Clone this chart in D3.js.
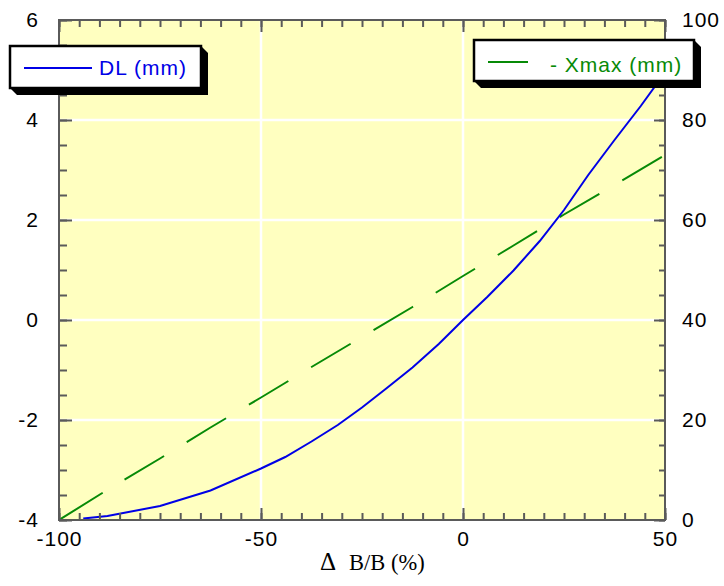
<!DOCTYPE html>
<html>
<head>
<meta charset="utf-8">
<script src="https://cdn.jsdelivr.net/npm/d3@7"></script>
<style>
  html, body { margin: 0; padding: 0; background: #ffffff; }
  svg { display: block; }
  .lbl { font-family: "Liberation Sans", Arial, Helvetica, sans-serif; font-size: 21px; letter-spacing: 1px; fill: #000; }
</style>
</head>
<body>
<svg id="chart" width="724" height="586"></svg>
<script>
// ---- data ----
const dlX = [-94, -88, -75, -62.5, -50, -44, -37.5, -31, -25, -19, -12.5, -6, 0, 6, 12.5, 19, 25, 31, 37.5, 44, 50];
const dlY = [-3.97, -3.92, -3.72, -3.41, -2.97, -2.74, -2.43, -2.1, -1.75, -1.37, -0.95, -0.48, 0, 0.46, 0.99, 1.58, 2.2, 2.9, 3.6, 4.28, 4.95];
const xmX = [-100, -87.5, -75, -62.5, -50, -37.5, -25, -12.5, 0, 12.5, 25, 37.5, 50];
const xmY = [0, 6.3, 12.3, 18.5, 24.5, 30.6, 36.6, 42.6, 48.8, 54.9, 61.1, 67, 73];
const xTickLabels = [-100, -50, 0, 50];
const yLeftTickLabels = [-4, -2, 0, 2, 4, 6];
const yRightTickLabels = [0, 20, 40, 60, 80, 100];
const legendDL = "DL (mm)";
const legendXmax = "- Xmax (mm)";

// ---- layout ----
const L = 59, R = 665, T = 20, B = 520;
const svg = d3.select("#chart");
const x = d3.scaleLinear().domain([-100, 50]).range([L, R]);
const yL = d3.scaleLinear().domain([-4, 6]).range([B, T]);
const yR = d3.scaleLinear().domain([0, 100]).range([B, T]);
const axisColor = "#5a5a5a";
const fmt = d => String(d);

svg.append("defs").append("clipPath").attr("id", "clip")
  .append("rect").attr("x", L).attr("y", T).attr("width", R - L).attr("height", B - T);

// background
svg.append("rect").attr("x", L).attr("y", T).attr("width", R - L).attr("height", B - T)
  .attr("fill", "#ffffc0");

// grid
const grid = svg.append("g");
grid.selectAll("line.vx").data(xTickLabels.filter(v => v > -100 && v < 50)).join("line")
  .attr("x1", d => x(d)).attr("x2", d => x(d)).attr("y1", T).attr("y2", B)
  .attr("stroke", "#ffffff").attr("stroke-width", 2.5);
grid.selectAll("line.hy").data(yLeftTickLabels.filter(v => v > -4 && v < 6)).join("line")
  .attr("x1", L).attr("x2", R).attr("y1", d => yL(d)).attr("y2", d => yL(d))
  .attr("stroke", "#ffffff").attr("stroke-width", 2.5);

// lines
const plot = svg.append("g").attr("clip-path", "url(#clip)");
const dlData = dlX.map((v, i) => [v, dlY[i]]);
const xmData = xmX.map((v, i) => [v, xmY[i]]);
plot.append("path").datum(xmData)
  .attr("d", d3.line().x(d => x(d[0])).y(d => yR(d[1])))
  .attr("fill", "none").attr("stroke", "#078a07").attr("stroke-width", 2)
  .attr("stroke-dasharray", [51.5, 25.5].concat(...Array(14).fill([46, 26.6])).join(","));
plot.append("path").datum(dlData)
  .attr("d", d3.line().x(d => x(d[0])).y(d => yL(d[1])))
  .attr("fill", "none").attr("stroke", "#0000e6").attr("stroke-width", 2);

// ticks
function styleAxis(g) {
  g.select(".domain").remove();
  g.selectAll(".tick line").attr("stroke", axisColor).attr("stroke-width", 2);
  g.selectAll(".tick text").attr("class", "lbl").attr("fill", "#000");
}
const xMinor = d3.range(-100, 50.01, 5);
const xMajor = xTickLabels;
// bottom
svg.append("g").attr("transform", `translate(0,${B})`)
  .call(d3.axisBottom(x).tickValues(xMinor).tickSize(-7).tickFormat(""))
  .call(styleAxis);
svg.append("g").attr("transform", `translate(0,${B})`)
  .call(d3.axisBottom(x).tickValues(xMajor).tickSize(-12).tickPadding(11).tickFormat(fmt))
  .call(styleAxis);
// top
svg.append("g").attr("transform", `translate(0,${T})`)
  .call(d3.axisTop(x).tickValues(xMinor).tickSize(-7).tickFormat(""))
  .call(styleAxis);
svg.append("g").attr("transform", `translate(0,${T})`)
  .call(d3.axisTop(x).tickValues(xMajor).tickSize(-12).tickFormat(""))
  .call(styleAxis);
// left
svg.append("g").attr("transform", `translate(${L},0)`)
  .call(d3.axisLeft(yL).tickValues(d3.range(-4, 6.01, 0.5)).tickSize(-8).tickFormat(""))
  .call(styleAxis);
svg.append("g").attr("transform", `translate(${L},0)`)
  .call(d3.axisLeft(yL).tickValues(yLeftTickLabels).tickSize(-13).tickPadding(20).tickFormat(fmt))
  .call(styleAxis);
// right
svg.append("g").attr("transform", `translate(${R},0)`)
  .call(d3.axisRight(yR).tickValues(d3.range(0, 100.01, 5)).tickSize(-6).tickFormat(""))
  .call(styleAxis);
svg.append("g").attr("transform", `translate(${R},0)`)
  .call(d3.axisRight(yR).tickValues(yRightTickLabels).tickSize(-11).tickPadding(17).tickFormat(fmt))
  .call(styleAxis);

// frame
svg.append("rect").attr("x", L).attr("y", T).attr("width", R - L).attr("height", B - T)
  .attr("fill", "none").attr("stroke", axisColor).attr("stroke-width", 2);

// x title
const title = svg.append("text").attr("y", 569.5)
  .attr("font-family", "'Liberation Serif', 'Times New Roman', serif").attr("fill", "#000");
title.append("tspan").attr("x", 320).attr("font-size", 25).text("Δ");
title.append("tspan").attr("x", 349).attr("font-size", 22.5).text("B/B (%)");

// legends
function legend(x0, y0, x1, y1, color, lx0, lx1, ly, tx, ty, label) {
  const g = svg.append("g");
  const o = 7;
  g.append("polygon")
    .attr("points", [[x0, y1], [x0 + o, y1 + o], [x1 + o, y1 + o], [x1 + o, y0 + o], [x1, y0]].map(p => p.join(",")).join(" "))
    .attr("fill", "#000");
  g.append("rect").attr("x", x0).attr("y", y0).attr("width", x1 - x0).attr("height", y1 - y0)
    .attr("fill", "#fff").attr("stroke", "#000").attr("stroke-width", 2.5);
  g.append("line").attr("x1", lx0).attr("x2", lx1).attr("y1", ly).attr("y2", ly)
    .attr("stroke", color).attr("stroke-width", 2);
  g.append("text").attr("class", "lbl").attr("x", tx).attr("y", ty).attr("fill", color).style("fill", color).text(label);
}
legend(10, 46, 201, 88, "#0000e6", 24, 92, 68, 99, 74.5, legendDL);
legend(474, 40, 694, 81, "#078a07", 488, 528, 62, 550, 72, legendXmax);
</script>
</body>
</html>
